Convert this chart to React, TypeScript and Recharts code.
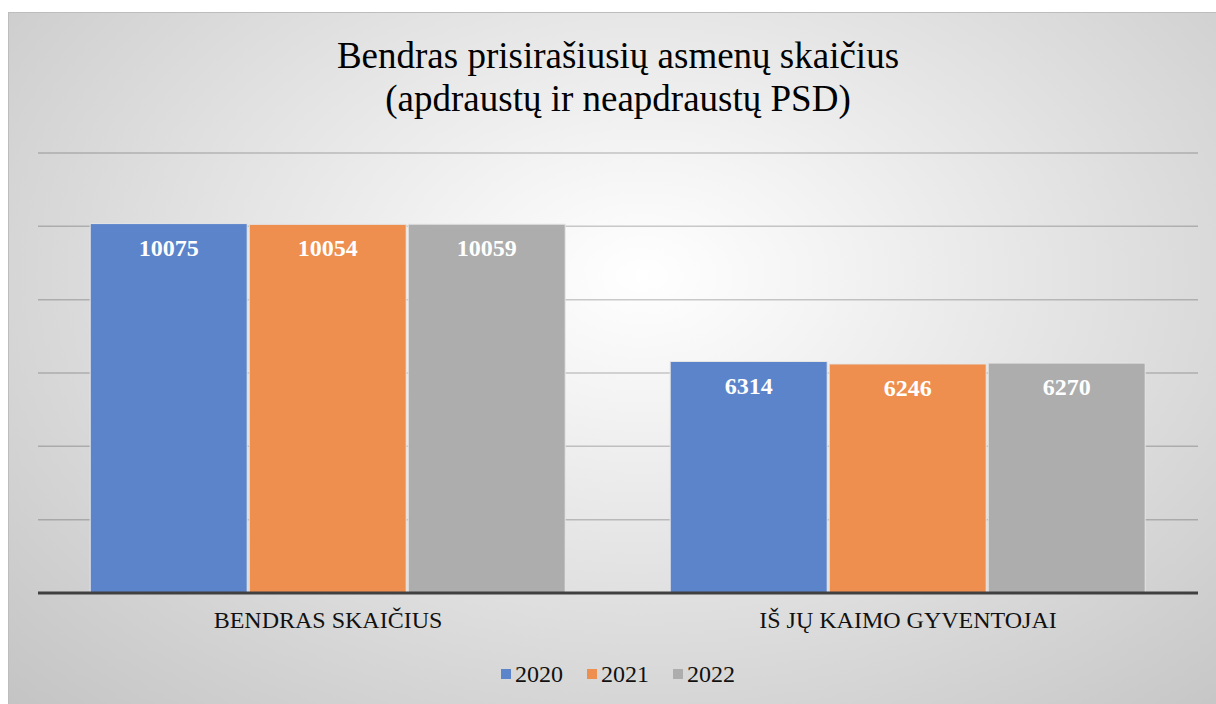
import { BarChart, Bar, XAxis, YAxis, CartesianGrid, Legend, LabelList } from "recharts";

const categories = ["BENDRAS SKAIČIUS", "IŠ JŲ KAIMO GYVENTOJAI"];
const years = ["2020", "2021", "2022"];
const values2020 = [10075, 6314];
const values2021 = [10054, 6246];
const values2022 = [10059, 6270];
const yTicks = [0, 2000, 4000, 6000, 8000, 10000, 12000];
const colors = ["#5b84cb", "#ee8f4f", "#adadad"];

const data = categories.map((name, i) => ({
  name,
  y2020: values2020[i],
  y2021: values2021[i],
  y2022: values2022[i],
}));

const serif = '"Liberation Serif", "Times New Roman", serif';

const CustomLegend = () => (
  <div
    style={{
      display: "flex",
      justifyContent: "center",
      alignItems: "center",
      height: 30,
      fontFamily: serif,
      fontSize: 24,
      color: "#111",
    }}
  >
    {years.map((y, i) => (
      <div key={y} style={{ display: "flex", alignItems: "center", margin: "0 12px" }}>
        <span
          style={{ width: 10, height: 10, background: colors[i], display: "inline-block", marginRight: 4 }}
        />
        <span>{y}</span>
      </div>
    ))}
  </div>
);

export default function App() {
  const keys = ["y2020", "y2021", "y2022"];
  return (
    <>
      <style>{`body{margin:0;overflow:hidden}`}</style>
      <div
        style={{
          position: "relative",
          marginTop: 12,
          marginLeft: 8,
          width: 1218,
          height: 692,
          boxSizing: "border-box",
          borderTop: "1px solid #bdbdbd",
          borderLeft: "1px solid #bdbdbd",
          background:
            "radial-gradient(ellipse farthest-corner at 52% 38%, #ffffff 0%, #f4f4f4 20%, #c4c4c4 100%)",
        }}
      >
        <div
          style={{
            position: "absolute",
            top: 21,
            left: 0,
            width: 1218,
            textAlign: "center",
            fontFamily: serif,
            fontSize: 37,
            lineHeight: "43px",
            color: "#000",
          }}
        >
          Bendras prisirašiusių asmenų skaičius
          <br />
          (apdraustų ir neapdraustų PSD)
        </div>
        <div style={{ position: "absolute", top: 0, left: 0 }}>
          <BarChart
            width={1218}
            height={692}
            data={data}
            margin={{ top: 140, right: 29, left: 29, bottom: 0 }}
            barCategoryGap="9%"
            barGap={2}
          >
            <CartesianGrid
              vertical={false}
              stroke="#000"
              strokeOpacity={0.2}
              strokeWidth={1.5}
            />
            <YAxis hide domain={[0, 12000]} ticks={yTicks} />
            <XAxis
              dataKey="name"
              height={82}
              tickLine={false}
              axisLine={{ stroke: "#404040", strokeWidth: 3 }}
              tickMargin={12}
              tick={{ fontFamily: serif, fontSize: 24, fill: "#111" }}
            />
            <Legend content={<CustomLegend />} wrapperStyle={{ bottom: 16 }} />
            {keys.map((k, i) => (
              <Bar
                key={k}
                dataKey={k}
                name={years[i]}
                fill={colors[i]}
                stroke="#e6e6e6"
                strokeWidth={1}
                isAnimationActive={false}
              >
                <LabelList
                  dataKey={k}
                  position="insideTop"
                  offset={15}
                  fill="#fff"
                  style={{ fontFamily: serif, fontSize: 24, fontWeight: "bold" }}
                />
              </Bar>
            ))}
          </BarChart>
        </div>
      </div>
    </>
  );
}
